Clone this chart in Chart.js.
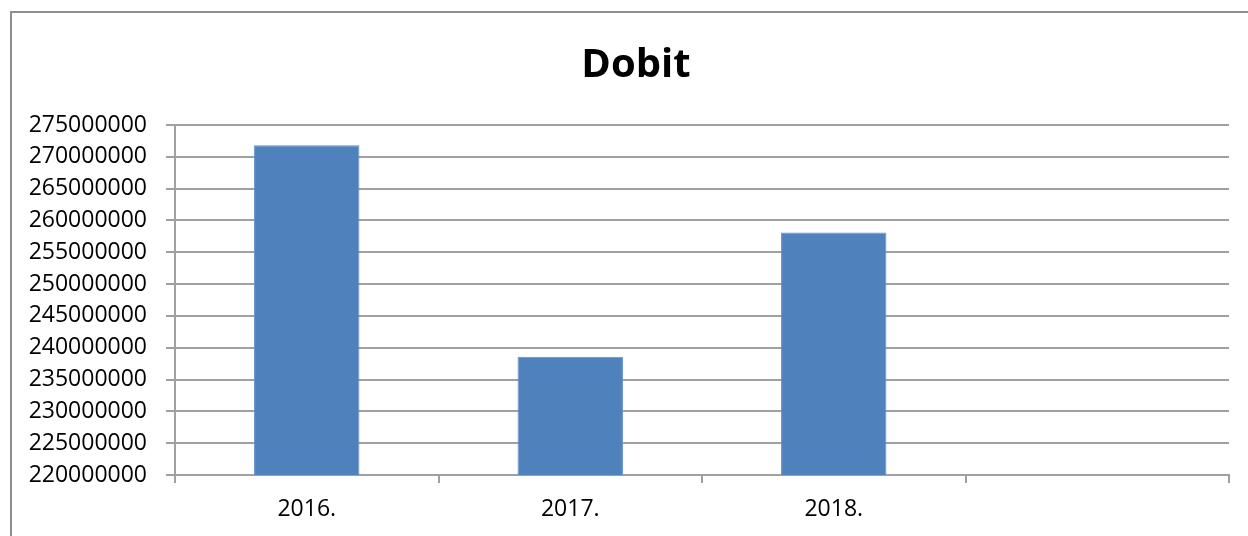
<!DOCTYPE html>
<html>
<head>
<meta charset="utf-8">
<script src="https://cdn.jsdelivr.net/npm/chart.js@4/dist/chart.umd.min.js"></script>
<style>
  html, body { margin: 0; padding: 0; background: #fff; overflow: hidden; }
  #frame { position: absolute; left: 10px; top: 11px; width: 1400px; height: 700px; border: 2px solid #8e8e8e; box-sizing: border-box; }
  #wrap { position: absolute; left: 0; top: 0; width: 1248px; height: 536px; }
</style>
</head>
<body>
<div id="frame"></div>
<div id="wrap"><canvas id="c" width="1248" height="536"></canvas></div>
<script>
const titleText = 'Dobit';
const categories = ['2016.', '2017.', '2018.', ''];
const values = [271800000, 238600000, 258100000, null];
const yMin = 220000000;
const yMax = 275000000;
const yStep = 5000000;

const gridColor = '#a0a0a0';
const fontFamily = '"Open Sans", "Noto Sans", sans-serif';

const titleShift = {
  id: 'titleShift',
  afterLayout(chart) {
    const t = chart.titleBlock;
    if (t) { t.left += 21.5; t.right += 21.5; }
  }
};

new Chart(document.getElementById('c'), {
  type: 'bar',
  data: {
    labels: categories,
    datasets: [{
      data: values,
      backgroundColor: '#4F81BD',
      borderColor: '#5F8FCA',
      borderWidth: 1,
      barPercentage: 0.4,
      categoryPercentage: 1.0
    }]
  },
  plugins: [titleShift],
  options: {
    responsive: false,
    animation: false,
    devicePixelRatio: 1,
    layout: { padding: { left: 0, right: 19, top: 0, bottom: 0 } },
    plugins: {
      legend: { display: false },
      tooltip: { enabled: false },
      title: {
        display: true,
        text: titleText,
        color: '#000',
        font: { family: fontFamily, size: 40, weight: 'bold', lineHeight: 1.2 },
        padding: { top: 42, bottom: 35 }
      }
    },
    scales: {
      x: {
        offset: true,
        grid: { offset: true, drawOnChartArea: false, drawTicks: true, tickLength: 8, color: gridColor, lineWidth: 2 },
        border: { display: true, color: gridColor, width: 2 },
        ticks: { color: '#000', font: { family: fontFamily, size: 23 }, padding: 13, maxRotation: 0 },
        afterFit: (s) => { s.height = 61; }
      },
      y: {
        min: yMin,
        max: yMax,
        grid: { color: gridColor, lineWidth: 2, tickLength: 9 },
        border: { display: true, color: gridColor, width: 2 },
        ticks: {
          stepSize: yStep,
          color: '#000',
          font: { family: fontFamily, size: 23 },
          padding: 19,
          callback: (v) => String(v)
        },
        afterFit: (s) => { s.width = 175; }
      }
    }
  }
});
</script>
</body>
</html>
